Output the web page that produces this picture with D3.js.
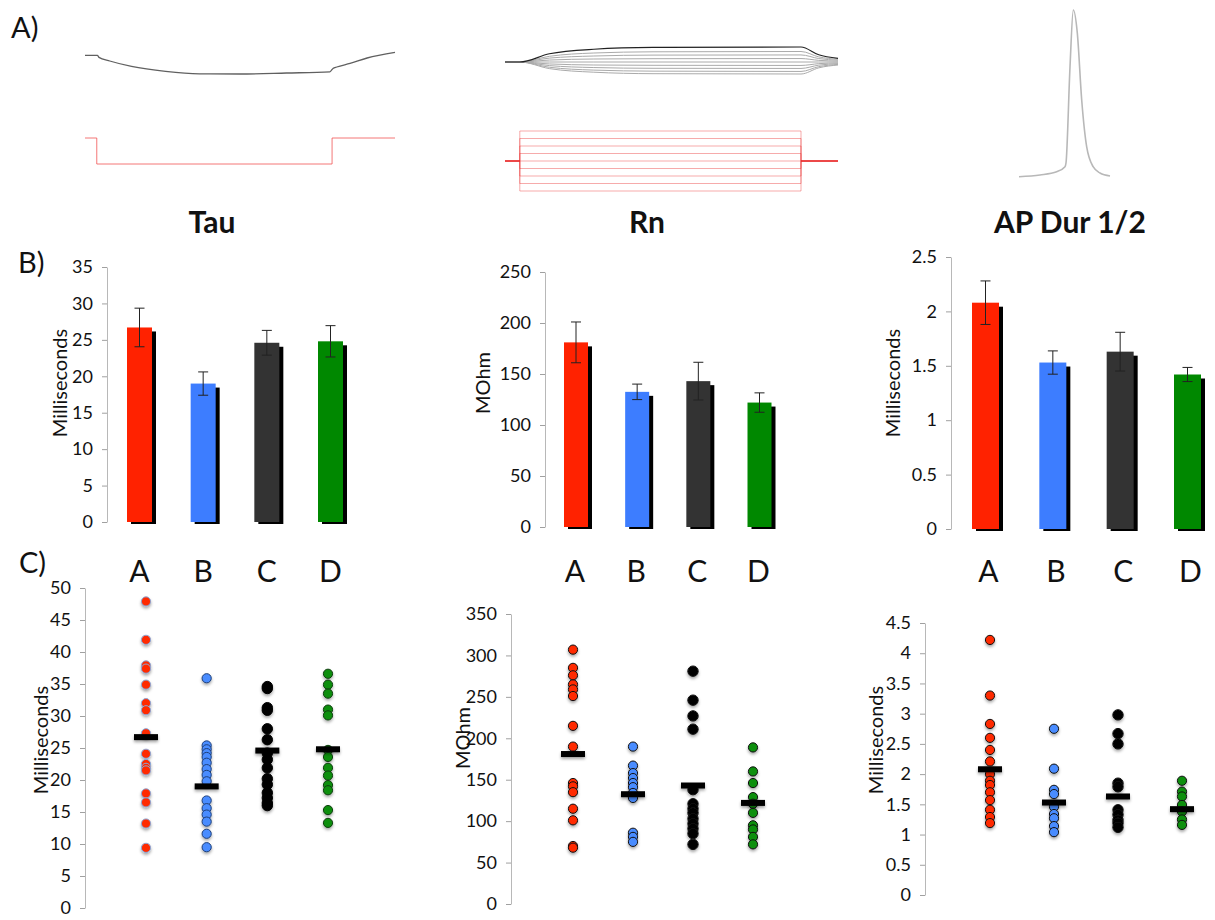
<!DOCTYPE html>
<html>
<head>
<meta charset="utf-8">
<script src="https://cdn.jsdelivr.net/npm/d3@7"></script>
<style>
  body { margin: 0; background: #fff; }
</style>
</head>
<body>
<div id="chart"></div>
<script>
const FONT = "Lato, 'Open Sans', sans-serif";

// groups and colours
const groups = ["A", "B", "C", "D"];
const barFill = ["#ff2200", "#3d7dff", "#333333", "#008800"];
const dotFill = ["#ff2a00", "#4a8cff", "#000000", "#0a8f0a"];
const dotStroke = ["#8aa8d8", "#1d3f7a", "#000000", "#0b3d0b"];

// B) means +/- error
const tauMean = [26.7, 19.0, 24.6, 24.8];
const tauSem = [2.65, 1.6, 1.7, 2.15];
const rnMean = [181, 132.5, 143, 122];
const rnSem = [20, 7.6, 18.5, 9.5];
const apMean = [2.08, 1.53, 1.63, 1.42];
const apSem = [0.2, 0.107, 0.178, 0.065];

// C) individual cells
const tauA = [47.9, 41.9, 37.9, 37.4, 34.9, 32, 30.9, 27.3, 24.1, 22.5, 21.9, 21.5, 17.9, 16.5, 13.2, 9.4];
const tauB = [35.9, 25.4, 24.8, 24.2, 23.6, 22.7, 21.7, 20.8, 19.8, 16.8, 15.6, 14.6, 13.5, 11.6, 9.5];
const tauC = [34.6, 34.3, 31.3, 30.9, 28, 26.3, 24.2, 23.2, 21.9, 20.2, 19.3, 18, 17.2, 16.4, 16];
const tauD = [36.6, 34.9, 33.5, 31, 30.1, 24.7, 23.6, 21.9, 20.7, 19.2, 18.4, 15.3, 13.3];

const rnA = [307, 285, 276, 265, 259, 251, 215, 190, 146, 142, 135, 115, 101, 70, 68];
const rnB = [190, 167, 158, 152, 146, 141, 134, 128, 86, 81, 75];
const rnC = [281, 246, 227, 211, 138, 121, 115, 110, 103, 97, 91, 85, 72];
const rnD = [189, 160, 146, 129, 121, 110, 95, 90, 81, 72];

const apA = [4.22, 3.3, 2.83, 2.6, 2.4, 2.21, 2.0, 1.89, 1.82, 1.7, 1.57, 1.41, 1.29, 1.19];
const apB = [2.75, 2.09, 1.74, 1.67, 1.46, 1.34, 1.27, 1.14, 1.04];
const apC = [2.98, 2.67, 2.5, 1.85, 1.79, 1.41, 1.33, 1.24, 1.19, 1.12];
const apD = [1.89, 1.71, 1.63, 1.49, 1.38, 1.25, 1.16];

// tick labels
const tauBarTicks = [0, 5, 10, 15, 20, 25, 30, 35];
const rnBarTicks = [0, 50, 100, 150, 200, 250];
const apBarTicks = [0, 0.5, 1, 1.5, 2, 2.5];
const tauDotTicks = [0, 5, 10, 15, 20, 25, 30, 35, 40, 45, 50];
const rnDotTicks = [0, 50, 100, 150, 200, 250, 300, 350];
const apDotTicks = [0, 0.5, 1, 1.5, 2, 2.5, 3, 3.5, 4, 4.5];

// A) example traces
// hyperpolarising step (ms, mV) and injected current (ms, pA)
const stepTraceT = [0, 40, 45, 80, 150, 260, 370, 500, 650, 790, 800, 812, 855, 910, 1000];
const stepTraceV = [-60.2, -60.2, -61.2, -63, -65.7, -68.2, -69.4, -69.5, -69, -68.4, -66.7, -66, -64.2, -61.5, -58.7];
const stepStimT = [0, 38, 38, 797, 797, 1000];
const stepStimI = [0, 0, -100, -100, 0, 0];

// family of current steps (ms) and responses (mV)
const familyT = [0, 50, 150, 300, 500, 1000, 1060, 1125];
const familyV = [
  [-65, -65, -59.5, -56.5, -55.3, -55, -60.2, -62.6],
  [-65, -65, -61.2, -59, -58.2, -58, -61.6, -63.2],
  [-65, -65, -62.4, -61, -60.4, -60.3, -62.7, -63.8],
  [-65, -65, -63.7, -63, -62.8, -62.7, -63.9, -64.4],
  [-65, -65, -65, -65, -65, -65, -65, -65],
  [-65, -65, -66.3, -67, -67.2, -67.3, -66.1, -65.6],
  [-65, -65, -67.4, -68.7, -69.2, -69.3, -67.1, -66.1],
  [-65, -65, -68.5, -70.4, -71.1, -71.3, -68.1, -66.6],
  [-65, -65, -69.4, -71.8, -72.8, -73, -68.9, -67]
];
const familyStimT = [0, 50, 50, 1000, 1000, 1125];
const familyLevels = [80, 60, 40, 20, 0, -20, -40, -60, -80];

// single action potential (ms, mV)
const spikeT = [0, 2.1, 3.77, 4.6, 4.7, 5.1, 5.43, 5.83, 6.27, 6.77, 7.43, 8.1, 9.1];
const spikeV = [-64.8, -63.7, -61.7, -58.5, -56.2, 4.2, 40, 25.6, -16.6, -46.1, -58.7, -62.5, -64.4];

const svg = d3.select("#chart").append("svg")
  .attr("width", 1215)
  .attr("height", 920)
  .style("background", "#fff");

const defs = svg.append("defs");
defs.append("filter").attr("id", "soft")
  .attr("x", "-50%").attr("y", "-50%").attr("width", "200%").attr("height", "200%")
  .append("feDropShadow")
  .attr("dx", 0).attr("dy", 2).attr("stdDeviation", 1.4)
  .attr("flood-color", "#000").attr("flood-opacity", 0.35);

// panel letters
const letters = [["A)", 11, 38], ["B)", 18, 273], ["C)", 19, 573]];
svg.selectAll("text.panel")
  .data(letters)
  .join("text")
  .attr("class", "panel")
  .attr("x", d => d[1])
  .attr("y", d => d[2])
  .attr("font-family", FONT)
  .attr("font-size", 29)
  .attr("fill", "#111")
  .text(d => d[0]);

// ---------- A) traces ----------
function drawLine(xs, ys, x, y) {
  return d3.line().x((d, i) => x(xs[i])).y(d => y(d))(ys);
}

{
  const x = d3.scaleLinear([0, 1000], [85, 395]);
  const v = d3.scaleLinear([-60, -70], [55, 75]);
  const i = d3.scaleLinear([0, -100], [138, 164]);
  svg.append("path")
    .attr("d", d3.line().curve(d3.curveMonotoneX).x((d, k) => x(stepTraceT[k])).y(d => v(d))(stepTraceV))
    .attr("fill", "none").attr("stroke", "#444").attr("stroke-width", 1.3).attr("opacity", 0.85);
  svg.append("path")
    .attr("d", drawLine(stepStimT, stepStimI, x, i))
    .attr("fill", "none").attr("stroke", "#f04a4a").attr("stroke-width", 1).attr("opacity", 0.75);
}

{
  const x = d3.scaleLinear([0, 1125], [505, 838]);
  const v = d3.scaleLinear([-65, -55], [62, 47]);
  const i = d3.scaleLinear([0, 80], [161, 131]);
  familyLevels.forEach(level => {
    const curr = [0, 0, level, level, 0, 0];
    svg.append("path")
      .attr("d", drawLine(familyStimT, curr, x, i))
      .attr("fill", "none").attr("stroke", "#e83030").attr("stroke-width", 0.9).attr("opacity", 0.45);
  });
  familyV.slice().reverse().forEach((trace, k) => {
    const top = k === familyV.length - 1;
    svg.append("path")
      .attr("d", d3.line().curve(d3.curveMonotoneX).x((d, j) => x(familyT[j])).y(d => v(d))(trace))
      .attr("fill", "none")
      .attr("stroke", top ? "#222" : "#aaa")
      .attr("stroke-width", top ? 1.2 : 1);
  });
}

{
  const x = d3.scaleLinear([0, 9], [1019, 1109]);
  const v = d3.scaleLinear([-65, 40], [177, 10]);
  svg.append("path")
    .attr("d", d3.line().curve(d3.curveMonotoneX).x((d, k) => x(spikeT[k])).y(d => v(d))(spikeV))
    .attr("fill", "none").attr("stroke", "#b8b8b8").attr("stroke-width", 1.6);
}

// ---------- shared helpers ----------
function yAxis(axisX, y, ticks) {
  const g = svg.append("g")
    .attr("transform", `translate(${axisX},0)`)
    .call(d3.axisLeft(y).tickValues(ticks).tickSize(5).tickSizeOuter(0).tickPadding(9).tickFormat(d => String(d)));
  g.select(".domain").attr("stroke", "#b8b8b8");
  g.selectAll(".tick line").attr("stroke", "#a0a0a0");
  g.selectAll(".tick text")
    .attr("font-family", FONT)
    .attr("font-size", 18)
    .attr("fill", "#111");
  return g;
}

function yLabel(text, cx, cy) {
  svg.append("text")
    .attr("transform", `translate(${cx},${cy}) rotate(-90)`)
    .attr("text-anchor", "middle")
    .attr("dominant-baseline", "central")
    .attr("font-family", FONT)
    .attr("font-size", 20)
    .attr("fill", "#111")
    .text(text);
}

function barPanel(cfg) {
  const y = d3.scaleLinear([0, cfg.max], [cfg.bottom, cfg.top]);
  const x = d3.scalePoint(groups, cfg.centers);
  yAxis(cfg.axisX, y, cfg.ticks);
  yLabel(cfg.label, cfg.labelX, 383);

  svg.append("text")
    .attr("x", cfg.titleX).attr("y", 233)
    .attr("text-anchor", "middle")
    .attr("font-family", FONT)
    .attr("font-weight", "bold")
    .attr("font-size", 30)
    .attr("fill", "#111")
    .text(cfg.title);

  const g = svg.append("g");
  // shadow
  g.selectAll("rect.shadow")
    .data(cfg.mean)
    .join("rect")
    .attr("x", (d, k) => x(groups[k]) - cfg.bw / 2 + 4)
    .attr("y", d => y(d) + 4)
    .attr("width", cfg.bw)
    .attr("height", d => y(0) - y(d) - 2)
    .attr("fill", "#000");
  g.selectAll("rect.bar")
    .data(cfg.mean)
    .join("rect")
    .attr("x", (d, k) => x(groups[k]) - cfg.bw / 2)
    .attr("y", d => y(d))
    .attr("width", cfg.bw)
    .attr("height", d => y(0) - y(d))
    .attr("fill", (d, k) => barFill[k]);

  // error bars
  const eb = g.selectAll("g.err")
    .data(cfg.mean)
    .join("g")
    .attr("stroke", "#222")
    .attr("stroke-width", 1);
  eb.append("line")
    .attr("x1", (d, k) => x(groups[k])).attr("x2", (d, k) => x(groups[k]))
    .attr("y1", (d, k) => y(d - cfg.sem[k])).attr("y2", (d, k) => y(d + cfg.sem[k]));
  eb.append("line")
    .attr("x1", (d, k) => x(groups[k]) - 5).attr("x2", (d, k) => x(groups[k]) + 5)
    .attr("y1", (d, k) => y(d + cfg.sem[k])).attr("y2", (d, k) => y(d + cfg.sem[k]));
  eb.append("line")
    .attr("x1", (d, k) => x(groups[k]) - 5).attr("x2", (d, k) => x(groups[k]) + 5)
    .attr("y1", (d, k) => y(d - cfg.sem[k])).attr("y2", (d, k) => y(d - cfg.sem[k]));

  // category letters
  svg.selectAll(null)
    .data(groups)
    .join("text")
    .attr("x", d => x(d) + cfg.letterShift)
    .attr("y", 582)
    .attr("text-anchor", "middle")
    .attr("font-family", FONT)
    .attr("font-size", 30)
    .attr("fill", "#111")
    .text(d => d);
}

function dotPanel(cfg) {
  const y = d3.scaleLinear([0, cfg.max], [cfg.bottom, cfg.top]);
  const x = d3.scalePoint(groups, cfg.centers);
  yAxis(cfg.axisX, y, cfg.ticks);
  yLabel(cfg.label, cfg.labelX, cfg.labelY);

  cfg.values.forEach((vals, k) => {
    const black = k === 2;
    svg.append("g")
      .attr("filter", "url(#soft)")
      .selectAll("circle")
      .data(vals)
      .join("circle")
      .attr("cx", x(groups[k]))
      .attr("cy", d => y(d))
      .attr("r", black ? 5.2 : 4.6)
      .attr("fill", dotFill[k])
      .attr("stroke", cfg.outline ? cfg.outline[k] : "#111")
      .attr("stroke-width", 1);
  });

  svg.append("g")
    .attr("filter", "url(#soft)")
    .selectAll("rect")
    .data(cfg.mean)
    .join("rect")
    .attr("x", (d, k) => x(groups[k]) - 12)
    .attr("y", d => y(d) - 3)
    .attr("width", 24)
    .attr("height", 6)
    .attr("fill", "#000");
}

// ---------- B) bar charts ----------
barPanel({
  title: "Tau", titleX: 212, label: "Milliseconds", labelX: 59,
  mean: tauMean, sem: tauSem, max: 35, ticks: tauBarTicks,
  axisX: 107, bottom: 522, top: 267, centers: [139.5, 330.5], bw: 25, letterShift: 0
});
barPanel({
  title: "Rn", titleX: 647, label: "MOhm", labelX: 482,
  mean: rnMean, sem: rnSem, max: 250, ticks: rnBarTicks,
  axisX: 545, bottom: 527, top: 272, centers: [576, 759.5], bw: 24, letterShift: -1
});
barPanel({
  title: "AP Dur 1/2", titleX: 1070, label: "Milliseconds", labelX: 892,
  mean: apMean, sem: apSem, max: 2.5, ticks: apBarTicks,
  axisX: 951, bottom: 529, top: 257, centers: [985.5, 1187.5], bw: 27, letterShift: 3
});

// ---------- C) scatter of cells ----------
dotPanel({
  values: [tauA, tauB, tauC, tauD], mean: tauMean, max: 50, ticks: tauDotTicks,
  axisX: 85, bottom: 908, top: 588, centers: [146, 328],
  label: "Milliseconds", labelX: 40, labelY: 740,
  outline: dotStroke
});
dotPanel({
  values: [rnA, rnB, rnC, rnD], mean: rnMean, max: 350, ticks: rnDotTicks,
  axisX: 511, bottom: 904, top: 614, centers: [573, 753],
  label: "MOhm", labelX: 462, labelY: 738
});
dotPanel({
  values: [apA, apB, apC, apD], mean: apMean, max: 4.5, ticks: apDotTicks,
  axisX: 925, bottom: 895, top: 623, centers: [990, 1182],
  label: "Milliseconds", labelX: 875, labelY: 740
});
</script>
</body>
</html>
